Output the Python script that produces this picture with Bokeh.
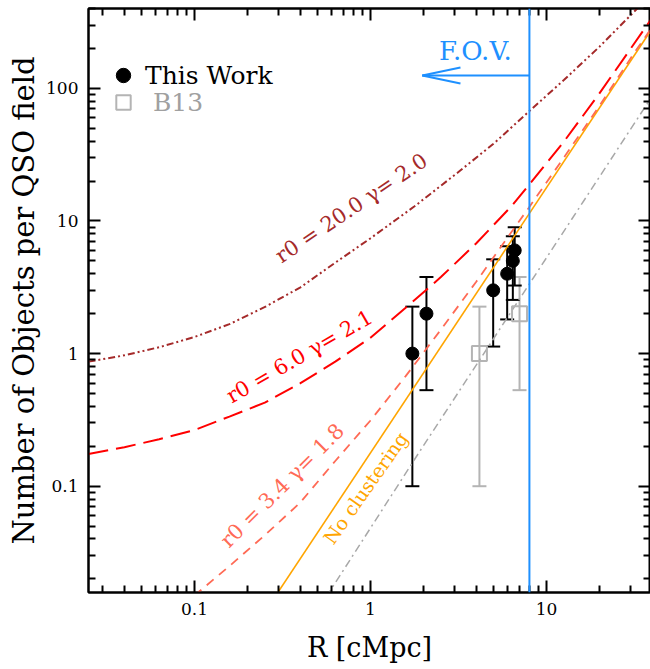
import math
from bokeh.plotting import figure
from bokeh.models import (ColumnDataSource, Whisker, TeeHead, Span, Legend, LegendItem,
                          LogAxis, FixedTicker, CustomJSTickFormatter, Range1d)
from bokeh.core.properties import value
from bokeh.embed import file_html
from bokeh.resources import INLINE

# ---------------- data ----------------
this_r = [1.73, 2.08, 4.98, 5.98, 6.44, 6.60]
this_n = [1, 2, 3, 4, 5, 6]
this_lo = [0.10, 0.53, 1.13, 1.81, 2.54, 3.26]
this_hi = [2.26, 3.78, 5.14, 6.44, 7.66, 8.95]

b13_r = [4.16, 7.03]
b13_n = [1, 2]
b13_lo = [0.10, 0.53]
b13_hi = [2.26, 3.78]

# r0 = 20.0, gamma = 2.0
r20_r = [0.025, 0.04, 0.063, 0.1, 0.158, 0.25, 0.4, 0.63, 1.0, 1.78, 3.16, 5.0, 7.94, 12.6, 20.0, 32.7, 40.0]
r20_n = [0.87, 0.97, 1.117, 1.334, 1.667, 2.239, 3.16, 4.84, 7.4, 12.9, 23.4, 38.2, 66.8, 116, 206, 398, 513]

# r0 = 6.0, gamma = 2.1
r6_r = [0.025, 0.04, 0.063, 0.1, 0.158, 0.251, 0.398, 0.631, 1.0, 1.585, 2.512, 3.981, 6.31, 7.94, 12.59, 19.95, 31.6, 40.0]
r6_n = [0.175, 0.197, 0.226, 0.265, 0.335, 0.427, 0.596, 0.869, 1.318, 2.213, 3.776, 6.761, 12.88, 18.62, 39.8, 91.2, 218.8, 342.7]

# r0 = 3.4, gamma = 1.8
r34_r = [0.100, 0.158, 0.251, 0.398, 0.631, 1.0, 1.585, 2.512, 3.981, 6.31, 7.94, 12.59, 19.95, 31.6, 40.0]
r34_n = [0.015, 0.025, 0.0427, 0.075, 0.155, 0.313, 0.676, 1.514, 3.467, 8.22, 12.6, 30.2, 73.5, 186, 292]

noclust_r = [0.29, 40.0]
noclust_n = [0.0150, 285]

b13model_r = [0.56, 1.92, 16.3, 40.0]
b13model_n = [0.0146, 0.186, 14.2, 88]

fov_r = 8.0
arrow_tip_r = 1.97
arrow_n = 125

curve_labels = ["r0 = 20.0 \u03b3= 2.0", "r0 = 6.0 \u03b3= 2.1", "r0 = 3.4 \u03b3= 1.8", "No clustering"]

x_major = [0.1, 1, 10]
y_major = [0.1, 1, 10, 100]

# ---------------- style / layout ----------------
SERIF = "DejaVu Serif"
C_BROWN = "#a52a2a"
C_RED = "#ff0000"
C_SALMON = "#ff6a55"
C_ORANGE = "#ffa500"
C_GRAY = "#a8a8a8"
C_BLUE = "#1e90ff"
C_B13 = "#b4b4b4"

x_minor = [a * 10 ** e for e in (-2, -1, 0, 1) for a in range(2, 10) if 0.025 <= a * 10 ** e <= 39]
y_minor = [a * 10 ** e for e in (-2, -1, 0, 1, 2) for a in range(2, 10) if 0.0158 <= a * 10 ** e <= 400]

p = figure(width=650, height=669, x_axis_type="log", y_axis_type="log",
           x_range=Range1d(0.025, 39), y_range=Range1d(0.0158, 400),
           output_backend="svg", toolbar_location=None,
           min_border_left=88, min_border_right=0, min_border_top=8, min_border_bottom=77)
p.grid.visible = False
p.outline_line_color = "black"
p.outline_line_width = 2
p.background_fill_color = "white"
p.border_fill_color = "white"

fmt = CustomJSTickFormatter(code="return tick < 1 ? tick.toFixed(1) : tick.toFixed(0);")
blank = CustomJSTickFormatter(code="return '';")


def style_axis(ax, ticks, minor, labelled):
    ax.ticker = FixedTicker(ticks=ticks, minor_ticks=minor)
    ax.axis_line_width = 2
    ax.major_tick_line_width = 2
    ax.minor_tick_line_width = 2
    ax.major_tick_in = 12
    ax.major_tick_out = 0
    ax.minor_tick_in = 7
    ax.minor_tick_out = 0
    if labelled:
        ax.formatter = fmt
        ax.major_label_text_font = SERIF
        ax.major_label_text_font_size = "17px"
        ax.major_label_text_color = "black"
        ax.major_label_standoff = 10
        ax.axis_label_text_font = SERIF
        ax.axis_label_text_font_style = "normal"
        ax.axis_label_text_color = "black"
    else:
        ax.formatter = blank
        ax.major_label_standoff = 0


style_axis(p.xaxis[0], x_major, x_minor, True)
style_axis(p.yaxis[0], y_major, y_minor, True)
p.xaxis[0].axis_label = "R [cMpc]"
p.yaxis[0].axis_label = "Number of Objects per QSO field"
p.xaxis[0].axis_label_text_font_size = "27px"
p.yaxis[0].axis_label_text_font_size = "29px"
p.xaxis[0].axis_label_standoff = 14
p.yaxis[0].axis_label_standoff = 2

top_ax = LogAxis()
right_ax = LogAxis()
style_axis(top_ax, x_major, x_minor, False)
style_axis(right_ax, y_major, y_minor, False)
p.add_layout(top_ax, "above")
p.add_layout(right_ax, "right")

# ---------------- model curves ----------------
p.line(b13model_r, b13model_n, line_color=C_GRAY, line_width=1.5, line_dash="8 4 2 4")
p.line(noclust_r, noclust_n, line_color=C_ORANGE, line_width=1.6)
p.line(r34_r, r34_n, line_color=C_SALMON, line_width=1.8, line_dash="9 7")
p.line(r6_r, r6_n, line_color=C_RED, line_width=2, line_dash="20 8")
p.line(r20_r, r20_n, line_color=C_BROWN, line_width=2, line_dash="7 3 2 3 2 3")

# ---------------- FOV ----------------
p.add_layout(Span(location=fov_r, dimension="height", line_color=C_BLUE, line_width=2))
p.segment(x0=[fov_r], y0=[arrow_n], x1=[arrow_tip_r], y1=[arrow_n], line_color=C_BLUE, line_width=2)
head_angle = math.atan2(8, 38)
p.ray(x=[arrow_tip_r, arrow_tip_r], y=[arrow_n, arrow_n], length=39, length_units="screen",
      angle=[head_angle, -head_angle], line_color=C_BLUE, line_width=2)
p.text(x=[3.95], y=[192], text=["F.O.V."], text_color=C_BLUE, text_font=value(SERIF),
       text_font_size="26px", text_align="center", text_baseline="middle")

# ---------------- curve labels ----------------
lab_src = ColumnDataSource(dict(
    x=[0.78, 0.395, 0.315, 0.937],
    y=[12.5, 0.95, 0.101, 0.097],
    text=curve_labels,
    angle=[math.radians(34), math.radians(30), math.radians(45), math.radians(55)],
    color=[C_BROWN, C_RED, C_SALMON, C_ORANGE],
    size=["21px", "21px", "21px", "19px"],
))
p.text(x="x", y="y", text="text", angle="angle", text_color="color", source=lab_src,
       text_font=value(SERIF), text_font_size="size", text_align="center", text_baseline="middle")

# ---------------- data points ----------------
b13_src = ColumnDataSource(dict(x=b13_r, y=b13_n, lo=b13_lo, hi=b13_hi))
p.add_layout(Whisker(source=b13_src, base="x", lower="lo", upper="hi", dimension="height",
                     line_color=C_B13, line_width=2,
                     upper_head=TeeHead(size=14, line_color=C_B13, line_width=2),
                     lower_head=TeeHead(size=14, line_color=C_B13, line_width=2)))
sq = p.scatter("x", "y", source=b13_src, marker="square", size=15, fill_color=None,
               line_color=C_B13, line_width=2)

this_src = ColumnDataSource(dict(x=this_r, y=this_n, lo=this_lo, hi=this_hi))
p.add_layout(Whisker(source=this_src, base="x", lower="lo", upper="hi", dimension="height",
                     line_color="black", line_width=2,
                     upper_head=TeeHead(size=14, line_color="black", line_width=2),
                     lower_head=TeeHead(size=14, line_color="black", line_width=2)))
circ = p.scatter("x", "y", source=this_src, marker="circle", size=13, fill_color="black",
                 line_color="black")

# ---------------- legends ----------------
def make_legend(label, rend, color, loc):
    lg = Legend(items=[LegendItem(label=label, renderers=[rend])], location=loc,
                label_text_font=SERIF, label_text_font_size="25px", label_text_color=color,
                glyph_width=36, glyph_height=36, label_height=36, label_standoff=4,
                padding=0, margin=0, spacing=0, border_line_color=None,
                background_fill_alpha=0)
    p.add_layout(lg)


make_legend("This Work", circ, "black", (17, 499))
make_legend(" B13", sq, "#a0a0a0", (17, 472))

open("out.html", "w").write(file_html(p, INLINE))
